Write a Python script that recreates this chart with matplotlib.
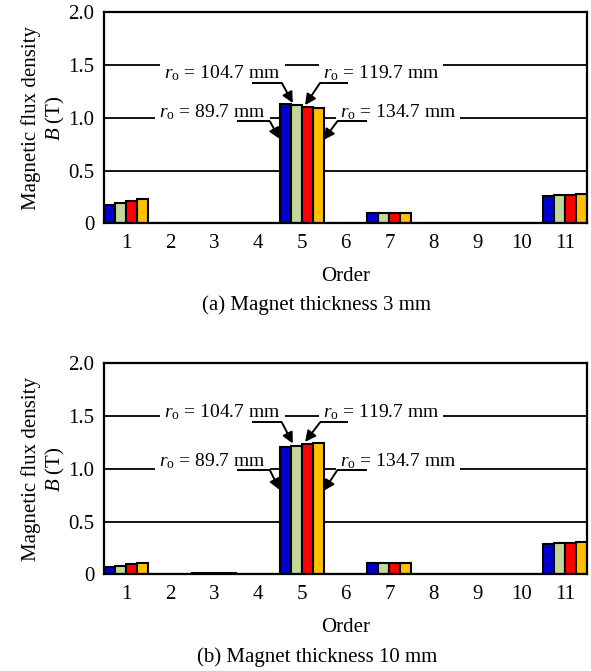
import numpy as np
import matplotlib
matplotlib.use("Agg")
import matplotlib.pyplot as plt

plt.rcParams["font.family"] = ["Liberation Serif", "DejaVu Serif"]
plt.rcParams["mathtext.fontset"] = "custom"
plt.rcParams["mathtext.rm"] = "Liberation Serif"
plt.rcParams["mathtext.it"] = "Liberation Serif:italic"

# -----------------------------
# Data
# -----------------------------
orders = list(range(1, 12))
radii = ["89.7", "104.7", "119.7", "134.7"]
colors = ["#0000CC", "#C4D79B", "#FF0000", "#FFC000"]

# (a) magnet thickness 3 mm, one list per outer radius
b_3mm_r89 = [0.17, 0, 0.005, 0, 1.13, 0, 0.10, 0, 0.005, 0, 0.26]
b_3mm_r104 = [0.19, 0, 0.005, 0, 1.12, 0, 0.10, 0, 0.005, 0, 0.27]
b_3mm_r119 = [0.21, 0, 0.005, 0, 1.10, 0, 0.10, 0, 0.005, 0, 0.27]
b_3mm_r134 = [0.23, 0, 0.005, 0, 1.09, 0, 0.10, 0, 0.005, 0, 0.275]

# (b) magnet thickness 10 mm
b_10mm_r89 = [0.07, 0, 0.008, 0, 1.21, 0, 0.11, 0, 0.003, 0, 0.29]
b_10mm_r104 = [0.08, 0, 0.008, 0, 1.22, 0, 0.11, 0, 0.003, 0, 0.30]
b_10mm_r119 = [0.095, 0, 0.008, 0, 1.235, 0, 0.11, 0, 0.003, 0, 0.30]
b_10mm_r134 = [0.105, 0, 0.008, 0, 1.245, 0, 0.11, 0, 0.003, 0, 0.305]

captions = ["(a) Magnet thickness 3 mm", "(b) Magnet thickness 10 mm"]
yticks = [0, 0.5, 1.0, 1.5, 2.0]
yticklabels = ["0", "0.5", "1.0", "1.5", "2.0"]

FS = 15
W, H = 591, 671


def draw_panel(ax, series, upper_text_y, upper_lead_y, lower_text_y, lower_lead_y):
    x = np.array(orders, dtype=float)
    bw = 0.25
    for i, vals in enumerate(series):
        ax.bar(x - 0.5 + bw * i, vals, width=bw, align="edge", color=colors[i],
               edgecolor="black", linewidth=1.5, zorder=2)

    # horizontal reference lines
    for yv in [0.5, 1.0, 1.5]:
        ax.axhline(yv, color="black", lw=1.3, zorder=1)

    ax.set_xlim(0.5, 11.5)
    ax.set_ylim(0, 2.0)
    ax.set_xticks(orders)
    ax.set_xticklabels([str(o) for o in orders])
    ax.set_yticks(yticks)
    ax.set_yticklabels(yticklabels)
    ax.tick_params(axis="both", length=0, labelsize=FS)
    ax.tick_params(axis="x", pad=8)
    ax.tick_params(axis="y", pad=7)
    for sp in ax.spines.values():
        sp.set_linewidth(1.6)

    ax.set_xlabel("Order", fontsize=FS, labelpad=10)
    ax.set_ylabel("Magnetic flux density\n$B$ (T)", fontsize=FS, labelpad=1, linespacing=1.15)

    # labels with leader arrows at order 5
    k = orders.index(5)
    box = dict(facecolor="white", edgecolor="none", pad=3)
    tfs = 14

    def label(txt, tx, ty, ha):
        ax.text(tx, ty, txt, ha=ha, va="baseline", fontsize=tfs, bbox=box, zorder=3)

    def leader(x0, x1, y, corner_x, tip):
        ax.plot([x0, x1], [y, y], color="black", lw=1.4, zorder=4, solid_capstyle="butt")
        ax.annotate("", xy=tip, xytext=(corner_x, y),
                    arrowprops=dict(arrowstyle="-|>", color="black", lw=1.4,
                                    mutation_scale=16, shrinkA=0, shrinkB=0),
                    zorder=4)

    # r = 104.7 (green) and r = 119.7 (red), upper
    label(r"$r_\mathrm{o}$ = " + radii[1] + " mm", 4.52, upper_text_y, "right")
    label(r"$r_\mathrm{o}$ = " + radii[2] + " mm", 5.48, upper_text_y, "left")
    leader(3.87, 4.55, upper_lead_y, 4.55, (4.80, series[1][k] + 0.02))
    leader(5.42, 6.06, upper_lead_y, 5.42, (5.08, series[2][k] + 0.02))

    # r = 89.7 (blue) and r = 134.7 (yellow), lower
    label(r"$r_\mathrm{o}$ = " + radii[0] + " mm", 4.18, lower_text_y, "right")
    label(r"$r_\mathrm{o}$ = " + radii[3] + " mm", 5.87, lower_text_y, "left")
    leader(3.53, 4.28, lower_lead_y, 4.28, (4.50, 0.80))
    leader(5.81, 6.49, lower_lead_y, 5.81, (5.50, 0.79))


fig = plt.figure(figsize=(W / 100, H / 100), dpi=100)

left = 104 / W
width = (587 - 104) / W
height = 211 / H

ax1 = fig.add_axes([left, 1 - 223.3 / H, width, height])
ax2 = fig.add_axes([left, 1 - 574.3 / H, width, height])

draw_panel(ax1, [b_3mm_r89, b_3mm_r104, b_3mm_r119, b_3mm_r134],
           upper_text_y=1.375, upper_lead_y=1.33, lower_text_y=1.0, lower_lead_y=0.965)
draw_panel(ax2, [b_10mm_r89, b_10mm_r104, b_10mm_r119, b_10mm_r134],
           upper_text_y=1.485, upper_lead_y=1.44, lower_text_y=1.02, lower_lead_y=0.985)

fig.text(317 / W, 1 - 305 / H, captions[0], ha="center", va="center", fontsize=FS)
fig.text(317 / W, 1 - 657 / H, captions[1], ha="center", va="center", fontsize=FS)

fig.savefig("out.png", dpi=100)
